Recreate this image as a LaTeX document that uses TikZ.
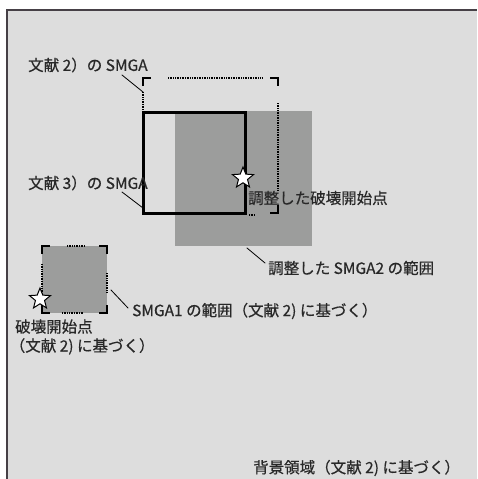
\documentclass[tikz,border=0pt]{standalone}
\usepackage{fontspec}
\usepackage{tikz}
\usepackage{tkz-euclide}
\usetikzlibrary{shapes.geometric}
\newfontfamily\jpfont[FakeBold=0.5]{Noto Sans CJK JP}
\definecolor{bggray}{RGB}{221,221,221}
\definecolor{smgagray}{RGB}{156,157,156}
\definecolor{txtgray}{RGB}{40,40,40}
\definecolor{framegray}{RGB}{70,64,70}
\tikzset{
  corner/.style={line width=2.2pt,black},
  dots/.style={line width=2.6pt,black,dash pattern=on 0.8pt off 0.9pt},
  leader/.style={line width=0.8pt,black},
  lbl/.style={anchor=west,inner sep=0pt,text=txtgray,font=\jpfont\fontsize{15.5}{19}\selectfont},
  epi/.style={star,star points=5,star point ratio=2.3,draw=black,fill=white,line width=1pt,minimum size=22pt,inner sep=0pt}
}

\begin{document}
\begin{tikzpicture}[x=1pt,y=-1pt]
    \useasboundingbox (0,0) rectangle (477,479);
    \tkzDefPoints{7/10/O, 477/479/Z}
    \tkzDefPoints{143/78/P, 278/78/Q, 278/213/R}
    \tkzDefPoints{143/112/A, 245/112/B, 245/213/C, 143/213/D}
    \tkzDefPoints{175/111/E, 312/246/F}
    \tkzDefPoints{42/246/K, 107/246/L, 107/313/M, 42/313/N}
    % background
    \fill[bggray] (O) rectangle (Z);
    \draw[framegray,line width=2pt] (O |- Z) -- (O) -- (Z |- O);
    % SMGA2 and SMGA1
    \fill[smgagray] (E) rectangle (F);
    \fill[smgagray] (K) rectangle (M);
    % SMGA (ref 2)
    \draw[corner] ([yshift=-8pt]P) -- (P) -- ([xshift=8pt]P);
    \draw[corner] ([xshift=-8pt]Q) -- (Q) -- ([yshift=-8pt]Q);
    \draw[corner] ([xshift=-8pt]R) -- (R) -- ([yshift=8pt]R);
    \draw[dots] (168,78) -- (262,78);
    \draw[dots] (278,103) -- (278,190);
    \draw[dots] (143,92) -- (143,110);
    \draw[dots] (249,215) -- (255,215);
    % SMGA1 corners
    \draw[corner] ([yshift=-8pt]K) -- (K) -- ([xshift=8pt]K);
    \draw[corner] ([xshift=-8pt]L) -- (L) -- ([yshift=-8pt]L);
    \draw[corner] ([xshift=-8pt]M) -- (M) -- ([yshift=8pt]M);
    \draw[corner] ([yshift=8pt]N) -- (N) -- ([xshift=8pt]N);
    \draw[dots] (67,246) -- (85,246);
    \draw[dots] (42,264) -- (42,302);
    \draw[dots] (107,273) -- (107,292);
    \draw[dots] (62,313) -- (83,313);
    % SMGA (ref 3)
    \draw[line width=3pt,black] (A) -- (B) -- (C) -- (D) -- cycle;
    \node[epi] (H) at (243,178) {};
    \node[epi] (G) at (40,299) {};
    % labels
    \node[lbl] (r2) at (28,65) {文献 2）の SMGA};
    \node[lbl] (r3) at (28,183) {文献 3）の SMGA};
    \node[lbl] (hyp) at (248,198) {調整した破壊開始点};
    \node[lbl] (s2) at (268,268) {調整した SMGA2 の範囲};
    \node[lbl] (s1) at (132,311) {SMGA1 の範囲（文献 2) に基づく）};
    \node[lbl,align=left] (hyp0) at (15,337) {破壊開始点\\\hspace{-0.35em}（文献 2) に基づく）};
    \node[lbl] (bg) at (253,468) {背景領域（文献 2) に基づく）};
    % leaders
    \tkzDefPoints{122/75/a1, 143/92/a2, 122/192/b1, 143/208/b2}
    \tkzDefPoints{247/248/c1, 265/263/c2, 111/290/d1, 128/308/d2}
    \tkzDrawSegments[leader](a1,a2 b1,b2 c1,c2 d1,d2)
\end{tikzpicture}
\end{document}
